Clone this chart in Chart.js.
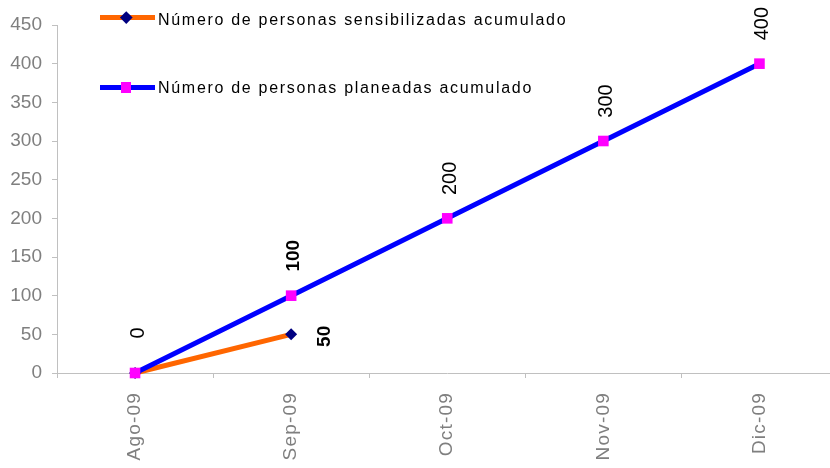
<!DOCTYPE html>
<html><head><meta charset="utf-8">
<script src="https://cdn.jsdelivr.net/npm/chart.js@4.4.1/dist/chart.umd.min.js"></script>
<style>
html,body{margin:0;padding:0;background:#fff;}
#wrap{position:relative;width:830px;height:468px;overflow:hidden;background:#fff;}
#c{position:absolute;left:0;top:0;}
.ln{position:absolute;left:100px;width:55px;height:5px;}
.tx{position:absolute;left:158px;white-space:nowrap;font:16px "Liberation Sans",Arial,sans-serif;letter-spacing:1.7px;line-height:16px;color:#000;}
</style></head>
<body>
<div id="wrap">
<canvas id="c" width="845" height="468"></canvas>
<div class="ln" style="top:15px;background:#FF6600;"></div>
<div style="position:absolute;left:121.75px;top:13.25px;width:8.5px;height:8.5px;background:#000080;transform:rotate(45deg);"></div>
<div class="tx" id="leg1" style="top:11.5px;"></div>
<div class="ln" style="top:85px;background:#0000FF;"></div>
<div style="position:absolute;left:121px;top:82px;width:10px;height:11px;background:#FF00FF;"></div>
<div class="tx" id="leg2" style="top:79.5px;"></div>
</div>
<script>
const categories = ['Ago-09', 'Sep-09', 'Oct-09', 'Nov-09', 'Dic-09'];
const seriesNames = ['Número de personas sensibilizadas acumulado', 'Número de personas planeadas acumulado'];
const sensibilizadas = [0, 50, null, null, null];
const planeadas = [0, 100, 200, 300, 400];
const yMin = 0, yMax = 450, yStep = 50;

document.getElementById('leg1').textContent = seriesNames[0];
document.getElementById('leg2').textContent = seriesNames[1];

const FONT = '"Liberation Sans", Arial, sans-serif';
Chart.defaults.font.family = FONT;

const labelPlugin = {
  id: 'valueLabels',
  beforeDraw(chart) { chart.ctx.letterSpacing = '0px'; },
  afterDatasetsDraw(chart) { chart.ctx.letterSpacing = '1.2px'; },
  afterDraw(chart) {
    const ctx = chart.ctx;
    ctx.letterSpacing = '0px';
    chart.data.datasets.forEach((ds, di) => {
      const o = ds.valueLabel;
      if (!o) return;
      const meta = chart.getDatasetMeta(di);
      meta.data.forEach((pt, i) => {
        const v = ds.data[i];
        if (v == null || !o.show[i]) return;
        const bold = i === o.boldIndex;
        ctx.save();
        ctx.font = (bold ? 'bold 19px ' : '20px ') + FONT;
        ctx.fillStyle = '#000';
        ctx.textAlign = 'center';
        ctx.textBaseline = 'middle';
        ctx.translate(pt.x + o.dx, pt.y + o.dy);
        ctx.rotate(-Math.PI / 2);
        ctx.fillText(String(v), 0, 0);
        ctx.restore();
      });
    });
  }
};

new Chart(document.getElementById('c'), {
  type: 'line',
  data: {
    labels: categories,
    datasets: [
      {
        label: seriesNames[0], data: sensibilizadas,
        borderColor: '#FF6600', backgroundColor: '#000080', borderWidth: 5,
        pointStyle: 'rectRot', pointRadius: 6, pointBorderWidth: 0,
        pointBackgroundColor: '#000080', pointBorderColor: '#000080',
        tension: 0, order: 2, clip: false, spanGaps: false,
        valueLabel: { show: [false, true, true, true, true], boldIndex: 1, dx: 34, dy: 2 }
      },
      {
        label: seriesNames[1], data: planeadas,
        borderColor: '#0000FF', backgroundColor: '#FF00FF', borderWidth: 5,
        pointStyle: 'rect', pointRadius: 7.5, pointBorderWidth: 0,
        pointBackgroundColor: '#FF00FF', pointBorderColor: '#FF00FF',
        tension: 0, order: 1, clip: false,
        valueLabel: { show: [true, true, true, true, true], boldIndex: 1, dx: 3, dy: -40 }
      }
    ]
  },
  options: {
    responsive: false,
    animation: false,
    events: [],
    layout: { padding: { left: 0, right: 3, top: 25, bottom: 0 } },
    plugins: { legend: { display: false }, tooltip: { enabled: false } },
    scales: {
      x: {
        offset: true,
        grid: { offset: true, drawOnChartArea: false, tickLength: 5, color: '#C0C0C0' },
        border: { color: '#C0C0C0', width: 1 },
        ticks: { autoSkip: false, minRotation: 90, maxRotation: 90, padding: 14, color: '#7F7F7F', font: { size: 19 }, z: 1 },
        afterFit(s) { s.height = 95; }
      },
      y: {
        min: yMin, max: yMax,
        ticks: { stepSize: yStep, padding: 10, color: '#7F7F7F', font: { size: 19 } },
        grid: { drawOnChartArea: false, tickLength: 5, color: '#C0C0C0' },
        border: { color: '#C0C0C0', width: 1 },
        afterFit(s) { s.width = 57; }
      }
    }
  },
  plugins: [labelPlugin]
});
</script>
</body></html>
